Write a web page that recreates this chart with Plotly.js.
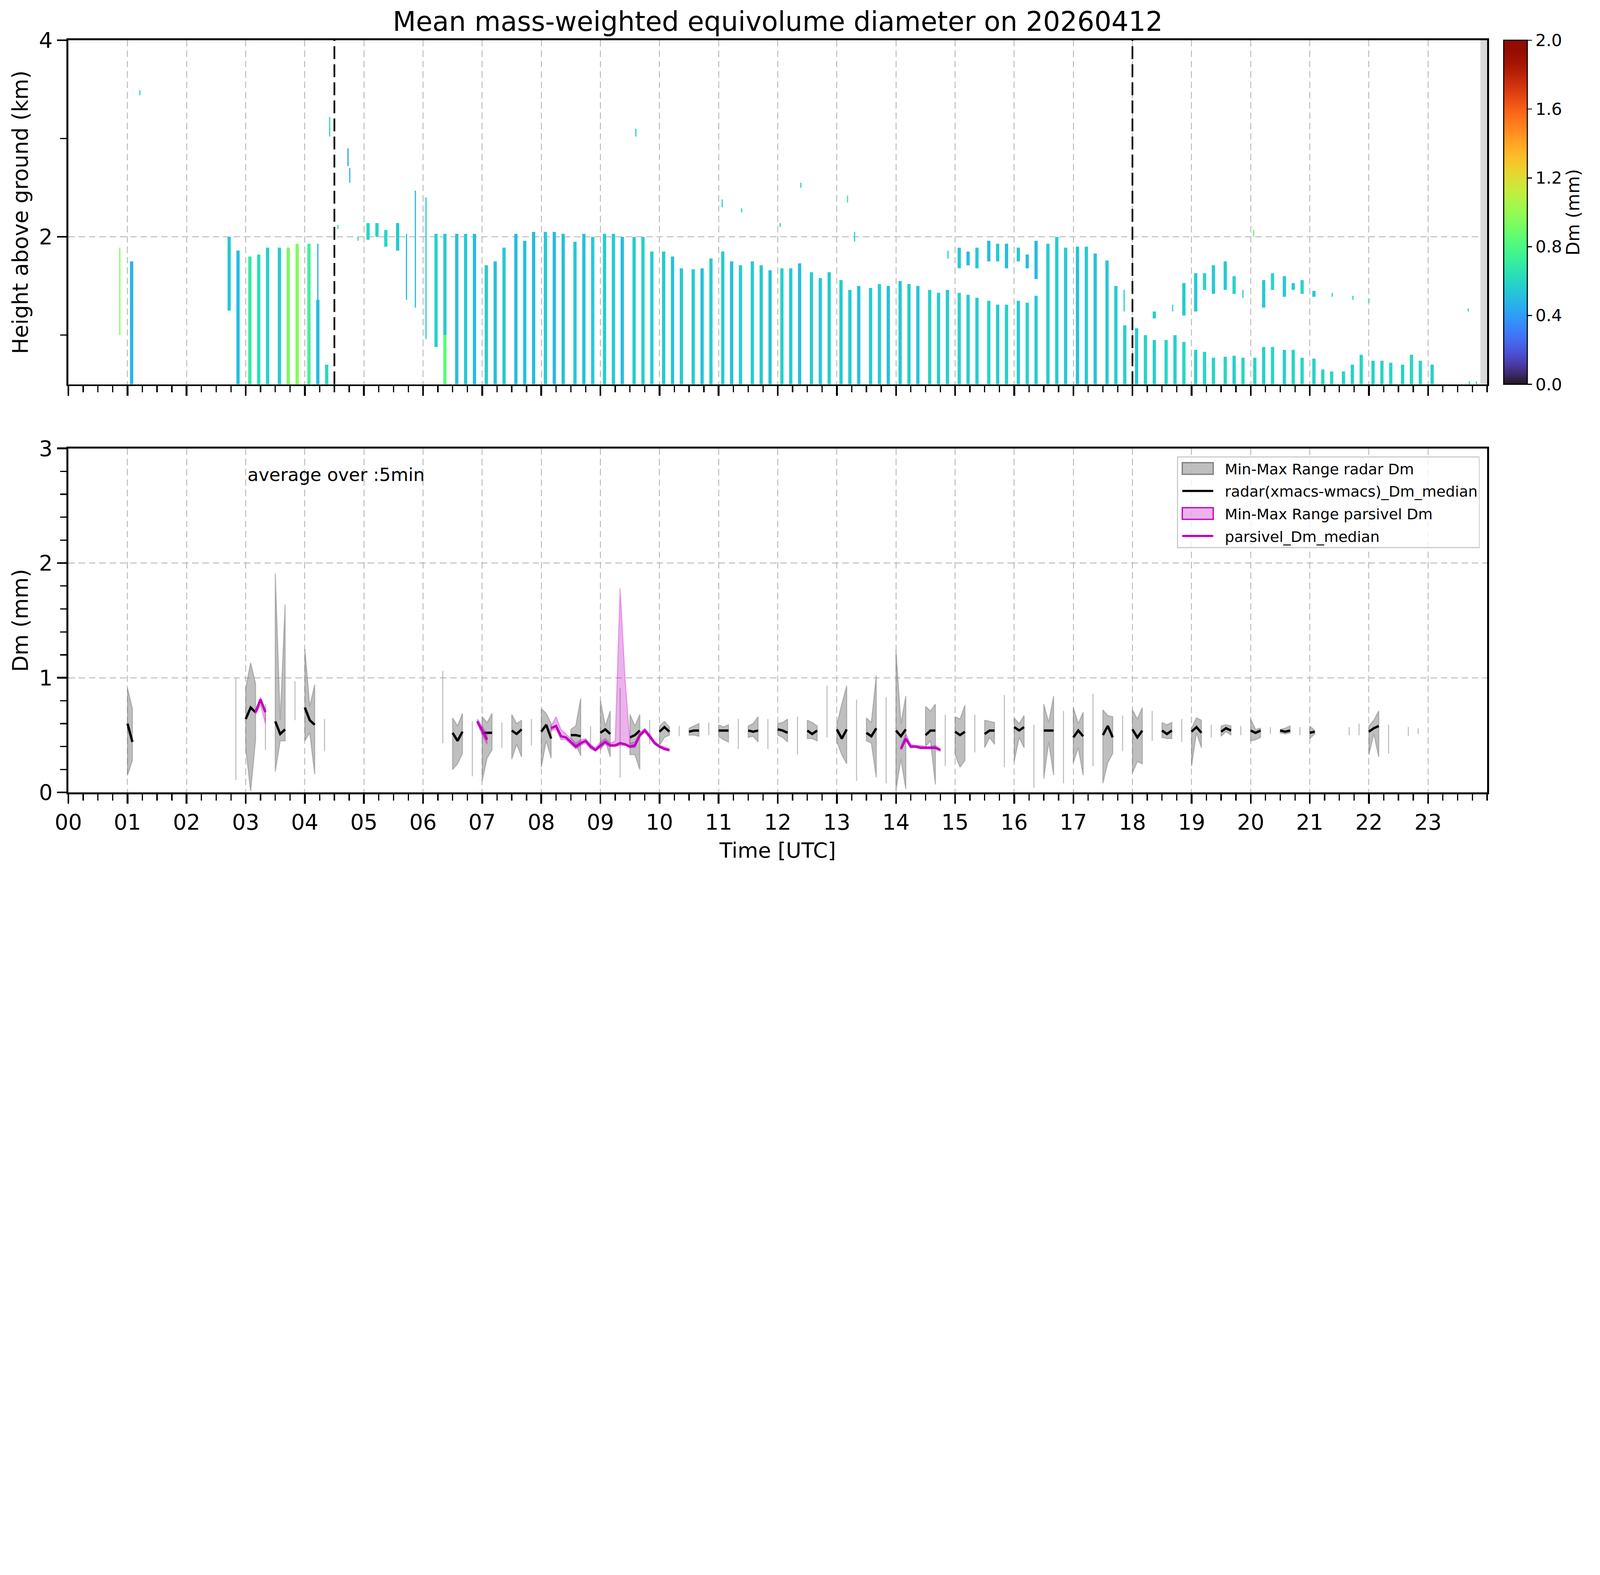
<!DOCTYPE html>
<html>
<head>
<meta charset="utf-8">
<script src="https://cdn.plot.ly/plotly-3.0.1.min.js"></script>
<style>html,body{margin:0;padding:0;background:#fff;overflow:hidden}#chart{width:7442px;height:4031px;transform-origin:0 0}</style>
</head>
<body>
<div id="chart"></div>
<script>
// ---------------- DATA ----------------
const chartTitle = 'Mean mass-weighted equivolume diameter on 20260412';
const hourLabels = ['00','01','02','03','04','05','06','07','08','09','10','11','12','13','14','15','16','17','18','19','20','21','22','23'];
const markerTimes = [4.5, 18.0];          // dashed vertical lines (h UTC)
const noDataStart = 23.885;               // grey no-data band start (h UTC)

// Radar profiles (top panel): scan centre time (h), echo base (km), echo top (km), Dm (mm)
const scanT = [1.07,2.72,2.87,3.07,3.22,3.37,3.57,3.72,3.87,4.07,4.22,4.37,
  5.07,5.22,5.37,5.57,6.22,6.37,6.37,
  6.57,6.72,6.87,7.07,7.22,7.37,7.57,7.72,7.87,8.07,8.22,8.37,8.57,8.72,8.87,
  9.07,9.22,9.37,9.57,9.72,9.87,10.07,10.22,10.37,10.57,10.72,10.87,
  11.07,11.22,11.37,11.57,11.72,11.87,12.07,12.22,12.37,12.57,12.72,12.87,
  13.07,13.22,13.37,13.57,13.72,13.87,14.07,14.22,14.37,14.57,14.72,14.87,
  15.07,15.22,15.37,15.57,15.72,15.87,16.07,16.22,16.37,16.57,16.72,16.87,
  17.07,17.22,17.37,17.57,17.72,17.87,18.07,18.22,18.37,18.57,18.72,18.87,
  19.07,19.22,19.37,19.57,19.72,19.87,20.07,20.22,20.37,20.57,20.72,20.87,
  21.07,21.22,21.37,21.57,21.72,21.87,22.07,22.22,22.37,22.57,22.72,22.87,23.07,
  15.07,15.22,15.37,15.57,15.72,15.87,16.07,16.22,16.37,
  18.37,18.87,19.07,19.22,19.37,19.57,19.72,20.22,20.37,20.57,20.72,20.87,21.07];
const scanBase = [0.5,1.25,0.5,0.5,0.5,0.5,0.5,0.5,0.5,0.5,0.5,0.5,
  1.97,2.0,1.9,1.86,0.88,1.0,0.5,
  0.5,0.5,0.5,0.5,0.5,0.5,0.5,0.5,0.5,0.5,0.5,0.5,0.5,0.5,0.5,
  0.5,0.5,0.5,0.5,0.5,0.5,0.5,0.5,0.5,0.5,0.5,0.5,
  0.5,0.5,0.5,0.5,0.5,0.5,0.5,0.5,0.5,0.5,0.5,0.5,
  0.5,0.5,0.5,0.5,0.5,0.5,0.5,0.5,0.5,0.5,0.5,0.5,
  0.5,0.5,0.5,0.5,0.5,0.5,0.5,0.5,0.5,0.5,0.5,0.5,
  0.5,0.5,0.5,0.5,0.5,0.5,0.5,0.5,0.5,0.5,0.5,0.5,
  0.5,0.5,0.5,0.5,0.5,0.5,0.5,0.5,0.5,0.5,0.5,0.5,
  0.5,0.5,0.5,0.5,0.5,0.5,0.5,0.5,0.5,0.5,0.5,0.5,0.5,
  1.68,1.71,1.68,1.75,1.75,1.68,1.75,1.68,1.57,
  1.17,1.2,1.24,1.46,1.42,1.46,1.42,1.28,1.46,1.39,1.46,1.42,1.39];
const scanTop = [1.75,2.0,1.86,1.80,1.82,1.89,1.89,1.89,1.93,1.93,1.36,0.70,
  2.14,2.14,2.07,2.14,2.03,2.03,1.0,
  2.03,2.03,2.03,1.71,1.75,1.89,2.03,1.96,2.05,2.05,2.05,2.03,1.95,2.03,2.0,
  2.03,2.03,2.0,2.0,2.0,1.85,1.85,1.8,1.68,1.67,1.68,1.78,
  1.85,1.75,1.71,1.75,1.71,1.66,1.68,1.68,1.73,1.64,1.58,1.64,
  1.56,1.46,1.5,1.48,1.52,1.5,1.55,1.52,1.5,1.46,1.43,1.46,
  1.43,1.41,1.38,1.35,1.31,1.31,1.35,1.33,1.4,1.93,2.0,1.89,
  1.9,1.9,1.83,1.76,1.5,1.1,1.07,1.0,0.95,0.95,1.0,0.93,
  0.85,0.83,0.77,0.78,0.79,0.77,0.77,0.88,0.88,0.85,0.85,0.77,
  0.76,0.65,0.63,0.63,0.7,0.8,0.74,0.74,0.72,0.7,0.8,0.74,0.7,
  1.89,1.85,1.89,1.96,1.93,1.93,1.89,1.82,1.96,
  1.24,1.53,1.63,1.63,1.71,1.75,1.6,1.56,1.63,1.6,1.53,1.56,1.45];
const scanDm = [0.48,0.55,0.50,0.70,0.62,0.58,0.55,0.92,0.95,0.75,0.50,0.60,
  0.60,0.58,0.60,0.55,0.58,0.55,0.85,
  0.52,0.55,0.50,0.55,0.52,0.55,0.50,0.52,0.50,0.55,0.50,0.52,0.55,0.52,0.55,
  0.56,0.55,0.50,0.56,0.58,0.56,0.55,0.52,0.55,0.56,0.52,0.56,
  0.56,0.52,0.56,0.56,0.55,0.52,0.58,0.55,0.52,0.56,0.55,0.56,
  0.56,0.55,0.52,0.55,0.56,0.52,0.55,0.56,0.52,0.58,0.56,0.55,
  0.58,0.56,0.56,0.58,0.56,0.58,0.56,0.58,0.56,0.55,0.56,0.55,
  0.52,0.55,0.52,0.55,0.56,0.58,0.55,0.58,0.58,0.60,0.58,0.60,
  0.58,0.60,0.60,0.60,0.58,0.60,0.60,0.58,0.60,0.58,0.60,0.60,
  0.58,0.60,0.60,0.60,0.58,0.60,0.58,0.60,0.60,0.58,0.60,0.60,0.58,
  0.55,0.50,0.55,0.50,0.55,0.50,0.55,0.50,0.50,
  0.58,0.55,0.55,0.60,0.55,0.55,0.60,0.55,0.60,0.55,0.55,0.60,0.55];

// Small isolated echoes (narrow)
const speckT    = [0.87,1.21,4.22,4.42,4.56,4.73,4.76,4.90,5.72,5.87,6.05,9.60,11.06,11.39,12.04,12.39,13.18,13.30,14.88,17.86,18.68,19.87,20.05,21.38,21.73,22.00,23.68,23.70,23.82];
const speckBase = [1.00,3.44,1.36,3.02,2.08,2.72,2.55,1.96,1.36,1.28,0.96,3.02,2.30,2.25,2.10,2.50,2.35,1.95,1.78,1.24,1.24,1.38,2.00,1.39,1.36,1.33,1.24,0.50,0.50];
const speckTop  = [1.89,3.49,1.93,3.22,2.12,2.90,2.70,2.00,2.03,2.47,2.40,3.10,2.38,2.29,2.14,2.55,2.42,2.05,1.86,1.46,1.31,1.46,2.07,1.43,1.40,1.37,1.27,0.53,0.53];
const speckDm   = [0.95,0.60,0.45,0.60,0.60,0.42,0.50,0.60,0.50,0.50,0.55,0.60,0.60,0.60,0.60,0.60,0.70,0.60,0.60,0.55,0.60,0.55,0.85,0.60,0.60,0.60,0.60,0.60,0.60];

// Bottom panel: 5-min radar Dm statistics
const radarTime = ['01:00','01:05','02:50','03:00','03:05','03:10','03:20','03:30','03:35','03:40','03:50',
  '04:00','04:05','04:10','04:20','06:20','06:30','06:35','06:40','06:50','07:00','07:05','07:10','07:20',
  '07:30','07:35','07:40','07:50','08:00','08:05','08:10','08:30','08:35','08:40','08:50','09:00','09:05','09:10',
  '09:20','09:30','09:35','09:40','09:50','10:00','10:05','10:10','10:20','10:30','10:35','10:40','10:50',
  '11:00','11:05','11:10','11:20','11:30','11:35','11:40','11:50','12:00','12:05','12:10','12:20',
  '12:30','12:35','12:40','12:50','13:00','13:05','13:10','13:20','13:30','13:35','13:40','13:50',
  '14:00','14:05','14:10','14:30','14:35','14:40','14:50','15:00','15:05','15:10','15:20',
  '15:30','15:35','15:40','15:50','16:00','16:05','16:10','16:20','16:30','16:35','16:40','16:50',
  '17:00','17:05','17:10','17:20','17:30','17:35','17:40','17:50','18:00','18:05','18:10','18:20',
  '18:30','18:35','18:40','18:50','19:00','19:05','19:10','19:20','19:30','19:35','19:40','19:50',
  '20:00','20:05','20:10','20:20','20:30','20:35','20:40','20:50','21:00','21:05','21:40','21:50',
  '22:00','22:05','22:10','22:20','22:40','22:50'];
const radarMin = [0.15,0.28,0.11,0.39,0.01,0.46,0.37,0.18,0.45,0.45,0.63,
  0.45,0.52,0.16,0.36,0.43,0.20,0.25,0.34,0.14,0.10,0.30,0.37,0.39,
  0.29,0.42,0.31,0.41,0.22,0.45,0.30,0.47,0.42,0.32,0.39,0.37,0.45,0.31,
  0.13,0.33,0.33,0.20,0.42,0.41,0.48,0.50,0.49,0.50,0.50,0.49,0.50,
  0.49,0.46,0.44,0.38,0.48,0.49,0.44,0.38,0.50,0.48,0.44,0.33,
  0.47,0.47,0.45,0.48,0.44,0.33,0.25,0.10,0.45,0.43,0.13,0.08,
  0.02,0.29,0.03,0.40,0.45,0.07,0.23,0.33,0.22,0.28,0.35,
  0.39,0.48,0.42,0.22,0.27,0.48,0.39,0.04,0.12,0.44,0.15,0.08,
  0.26,0.39,0.15,0.23,0.08,0.26,0.34,0.36,0.17,0.27,0.25,0.45,
  0.48,0.47,0.47,0.44,0.23,0.52,0.39,0.48,0.49,0.53,0.50,0.50,
  0.45,0.46,0.48,0.51,0.52,0.51,0.52,0.50,0.47,0.51,0.50,0.50,
  0.33,0.51,0.31,0.34,0.49,0.51];
const radarMed = [0.60,0.44,0.55,0.64,0.74,0.70,0.60,0.62,0.51,0.55,0.75,
  0.74,0.63,0.59,0.50,0.60,0.52,0.45,0.53,0.50,0.52,0.52,0.52,0.50,
  0.54,0.51,0.55,0.50,0.53,0.59,0.47,0.50,0.50,0.49,0.50,0.52,0.55,0.51,
  0.50,0.48,0.50,0.54,0.50,0.53,0.57,0.53,0.53,0.53,0.54,0.54,0.55,
  0.54,0.54,0.54,0.50,0.54,0.53,0.54,0.50,0.55,0.54,0.52,0.50,
  0.54,0.51,0.54,0.60,0.55,0.47,0.55,0.50,0.52,0.49,0.56,0.50,
  0.54,0.49,0.55,0.50,0.54,0.54,0.50,0.53,0.50,0.53,0.50,
  0.51,0.54,0.54,0.50,0.57,0.54,0.57,0.50,0.54,0.54,0.54,0.50,
  0.48,0.54,0.49,0.50,0.50,0.58,0.48,0.50,0.55,0.48,0.54,0.55,
  0.54,0.51,0.54,0.50,0.53,0.57,0.52,0.53,0.53,0.56,0.54,0.54,
  0.54,0.52,0.54,0.54,0.54,0.53,0.54,0.54,0.52,0.53,0.54,0.55,
  0.53,0.56,0.58,0.50,0.53,0.53];
const radarMax = [0.91,0.73,1.00,0.91,1.13,0.95,0.77,1.91,0.63,1.64,0.97,
  1.25,0.75,0.94,0.64,1.06,0.65,0.58,0.69,0.62,0.66,0.61,0.69,0.61,
  0.68,0.60,0.63,0.64,0.73,0.69,0.60,0.55,0.58,0.82,0.58,0.80,0.58,0.71,
  0.91,0.68,0.58,0.68,0.63,0.58,0.62,0.57,0.58,0.56,0.58,0.60,0.61,
  0.59,0.57,0.59,0.64,0.58,0.60,0.66,0.64,0.60,0.61,0.64,0.66,
  0.63,0.61,0.58,0.93,0.59,0.77,0.93,0.81,0.65,0.61,1.02,0.83,
  1.24,0.60,0.84,0.75,0.71,0.77,0.68,0.66,0.64,0.76,0.68,
  0.63,0.62,0.61,0.85,0.65,0.60,0.67,0.59,0.77,0.61,0.84,0.71,
  0.74,0.60,0.70,0.86,0.72,0.67,0.66,0.67,0.72,0.64,0.74,0.71,
  0.61,0.59,0.61,0.64,0.56,0.65,0.63,0.59,0.58,0.59,0.58,0.58,
  0.64,0.55,0.56,0.57,0.55,0.56,0.58,0.57,0.58,0.54,0.57,0.60,
  0.58,0.63,0.71,0.59,0.57,0.56];

// Bottom panel: 5-min Parsivel Dm statistics
const parsTime = ['03:10','03:15','03:20','06:55','07:00','07:05',
  '08:10','08:15','08:20','08:25','08:30','08:35','08:40','08:45','08:50','08:55','09:00','09:05','09:10','09:15',
  '09:20','09:25','09:30','09:35','09:40','09:45','09:50','09:55','10:00','10:05','10:10',
  '14:05','14:10','14:15','14:20','14:25','14:30','14:35','14:40','14:45'];
const parsMin = [0.68,0.76,0.60,0.60,0.50,0.42,
  0.54,0.55,0.46,0.46,0.42,0.38,0.41,0.43,0.38,0.36,0.39,0.42,0.40,0.40,
  0.41,0.41,0.39,0.39,0.48,0.53,0.47,0.42,0.39,0.37,0.36,
  0.37,0.45,0.39,0.39,0.38,0.38,0.38,0.38,0.36];
const parsMed = [0.70,0.81,0.70,0.62,0.54,0.46,
  0.56,0.58,0.49,0.48,0.44,0.40,0.43,0.45,0.40,0.37,0.41,0.44,0.41,0.41,
  0.43,0.42,0.40,0.41,0.50,0.54,0.49,0.43,0.40,0.38,0.37,
  0.38,0.47,0.40,0.40,0.39,0.39,0.39,0.39,0.37];
const parsMax = [0.72,0.83,0.72,0.64,0.58,0.50,
  0.58,0.66,0.55,0.51,0.47,0.43,0.46,0.47,0.42,0.39,0.44,0.47,0.43,0.45,
  1.78,1.00,0.43,0.44,0.52,0.56,0.51,0.45,0.41,0.40,0.38,
  0.40,0.51,0.42,0.41,0.41,0.40,0.40,0.41,0.38];

// ---------------- HELPERS ----------------
function turbo(t){
  t = Math.max(0, Math.min(1, t));
  const r = 34.61 + t*(1172.33 - t*(10793.56 - t*(33300.12 - t*(38394.49 - t*14825.05))));
  const g = 23.31 + t*(557.33 + t*(1225.33 - t*(3574.96 - t*(1073.77 + t*707.56))));
  const b = 27.2 + t*(3211.1 - t*(15327.97 - t*(27814 - t*(22569.18 - t*6838.66))));
  const c = v => Math.max(0, Math.min(255, Math.round(v)));
  return 'rgb(' + c(r) + ',' + c(g) + ',' + c(b) + ')';
}
const turboScale = [];
for (let k = 0; k <= 32; k++) turboScale.push([k/32, turbo(k/32)]);

const toH = s => { const p = s.split(':').map(Number); return p[0] + p[1]/60; };
const GAP = 5.5/60;
function rangePolygon(times, lo, hi){
  const xs = [], ys = []; let seg = [];
  const flush = () => {
    if (!seg.length) return;
    seg.forEach(i => { xs.push(times[i]); ys.push(hi[i]); });
    seg.slice().reverse().forEach(i => { xs.push(times[i]); ys.push(lo[i]); });
    xs.push(times[seg[0]]); ys.push(hi[seg[0]]);
    xs.push(null); ys.push(null); seg = [];
  };
  for (let i = 0; i < times.length; i++){
    if (seg.length && times[i] - times[seg[seg.length-1]] > GAP) flush();
    seg.push(i);
  }
  flush();
  return {x: xs, y: ys};
}
function gappedLine(times, vals){
  const xs = [], ys = [];
  for (let i = 0; i < times.length; i++){
    if (i > 0 && times[i] - times[i-1] > GAP){ xs.push(null); ys.push(null); }
    xs.push(times[i]); ys.push(vals[i]);
  }
  return {x: xs, y: ys};
}
const rT = radarTime.map(toH), pT = parsTime.map(toH);
const radarPoly = rangePolygon(rT, radarMin, radarMax);
const radarLine = gappedLine(rT, radarMed);
const parsPoly = rangePolygon(pT, parsMin, parsMax);
const parsLine = gappedLine(pT, parsMed);

const GREY_FILL = 'rgba(128,128,128,0.5)';
const PINK_FILL = 'rgba(191,0,191,0.3)';

// ---------------- TRACES ----------------
const traces = [
  {type:'bar', x: scanT, base: scanBase, y: scanTop.map((v,i)=>v-scanBase[i]), width: 0.055,
   marker:{color: scanDm, coloraxis:'coloraxis', line:{width:0}}, xaxis:'x', yaxis:'y', showlegend:false, hoverinfo:'skip'},
  {type:'bar', x: speckT, base: speckBase, y: speckTop.map((v,i)=>v-speckBase[i]), width: 0.02,
   marker:{color: speckDm, coloraxis:'coloraxis', line:{width:0}}, xaxis:'x', yaxis:'y', showlegend:false, hoverinfo:'skip'},
  {type:'scatter', mode:'lines', x: radarPoly.x, y: radarPoly.y, fill:'toself',
   fillcolor: GREY_FILL, line:{color: GREY_FILL, width:5},
   name:'Min-Max Range radar Dm', legendgroup:'a', xaxis:'x2', yaxis:'y2', hoverinfo:'skip'},
  {type:'scatter', mode:'lines', x: radarLine.x, y: radarLine.y, connectgaps:false,
   line:{color:'black', width:11}, name:'radar(xmacs-wmacs)_Dm_median', legendgroup:'b', xaxis:'x2', yaxis:'y2', hoverinfo:'skip'},
  {type:'scatter', mode:'lines', x: parsPoly.x, y: parsPoly.y, fill:'toself',
   fillcolor: PINK_FILL, line:{color: PINK_FILL, width:5},
   name:'Min-Max Range parsivel Dm', legendgroup:'c', xaxis:'x2', yaxis:'y2', hoverinfo:'skip'},
  {type:'scatter', mode:'lines', x: parsLine.x, y: parsLine.y, connectgaps:false,
   line:{color:'#bf00bf', width:11}, name:'parsivel_Dm_median', legendgroup:'d', xaxis:'x2', yaxis:'y2', hoverinfo:'skip'}
];

// ---------------- LAYOUT ----------------
const hourVals = hourLabels.map((_, i) => i);
const gridStyle = {showgrid:true, gridcolor:'#b0b0b0', gridwidth:4, griddash:'30px,18px'};
const lineStyle = {showline:true, linecolor:'black', linewidth:9, mirror:true, zeroline:false,
  ticks:'outside', ticklen:44, tickwidth:8, tickcolor:'black', automargin:false, tickfont:{size:100}};
const xCommon = Object.assign({}, lineStyle, gridStyle, {range:[0,24], tickmode:'array', tickvals: hourVals, ticktext: hourLabels,
  minor:{dtick:0.25, tick0:0, ticks:'outside', ticklen:29, tickwidth:6, tickcolor:'black', showgrid:false}});

const layout = {
  width: 7442, height: 4031,
  margin: {l:318, r:525, t:187, b:346, autoexpand:false},
  paper_bgcolor:'white', plot_bgcolor:'white',
  font: {family:'DejaVu Sans', color:'black', size:100},
  showlegend: true, hovermode: false, barmode: 'overlay',
  title: {text: chartTitle, x:0.5, xref:'paper', xanchor:'center', y: 1 - 100/4031, yref:'container', yanchor:'middle', font:{size:125}},
  xaxis: Object.assign({}, xCommon, {domain:[0,1], anchor:'y', showticklabels:false}),
  yaxis: Object.assign({}, lineStyle, gridStyle, {domain:[0.5426,1], anchor:'x', range:[0.5,4], tickmode:'array', tickvals:[2,4], ticktext:['2','4'],
    minor:{dtick:1, tick0:0, ticks:'outside', ticklen:29, tickwidth:6, tickcolor:'black', showgrid:false},
    title:{text:'Height above ground (km)', font:{size:100}, standoff:22}}),
  xaxis2: Object.assign({}, xCommon, {domain:[0,1], anchor:'y2', title:{text:'Time [UTC]', font:{size:98}, standoff:42}}),
  yaxis2: Object.assign({}, lineStyle, gridStyle, {domain:[0,0.4574], anchor:'x2', range:[0,3], tickmode:'array', tickvals:[0,1,2,3], ticktext:['0','1','2','3'],
    minor:{dtick:0.2, tick0:0, ticks:'outside', ticklen:29, tickwidth:6, tickcolor:'black', showgrid:false},
    title:{text:'Dm (mm)', font:{size:100}, standoff:22}}),
  coloraxis: {colorscale: turboScale, cmin:0, cmax:2,
    colorbar:{x:1.01167, xanchor:'left', xref:'paper', y:1, yanchor:'top', yref:'paper', len:0.4574, lenmode:'fraction',
      thickness:110, thicknessmode:'pixels', xpad:0, ypad:0, outlinewidth:5, outlinecolor:'black',
      tickmode:'array', tickvals:[0,0.4,0.8,1.2,1.6,2.0], tickformat:'.1f', tickprefix:'\u00a0',
      ticks:'outside', ticklen:20, tickwidth:5, tickcolor:'black', tickfont:{size:78},
      title:{text:'Dm (mm)', side:'right', font:{size:84}}}},
  legend: {x:0.99485, xanchor:'right', xref:'paper', y:0.44683, yanchor:'top', yref:'paper',
    bgcolor:'rgba(255,255,255,0.8)', bordercolor:'#cccccc', borderwidth:5, font:{size:69},
    itemwidth:207, tracegroupgap:12, traceorder:'grouped'},
  annotations: [{text:'average over :5min', xref:'paper', yref:'paper', x:0.1259, y:0.4225, xanchor:'left', yanchor:'middle',
    showarrow:false, font:{size:84}}],
  shapes: markerTimes.map(t => ({type:'line', xref:'x', yref:'y domain', x0:t, x1:t, y0:0, y1:1, layer:'above',
      line:{color:'black', width:8, dash:'60px,24px'}}))
    .concat([{type:'rect', xref:'x', yref:'y domain', x0:noDataStart, x1:24, y0:0, y1:1, fillcolor:'#d9d9d9', line:{width:0}, layer:'above'}])
};

// The browser window may be narrower than the figure: scale the whole figure to fit.
const fit = Math.min(1, window.innerWidth / 7442, window.innerHeight / 4031);
if (fit < 1) document.getElementById('chart').style.transform = 'scale(' + fit + ')';

Plotly.newPlot('chart', traces, layout, {staticPlot:true, displayModeBar:false}).then(gd => {
  // matplotlib-style legend handles: filled patches for ranges, short lines for medians
  gd.querySelectorAll('.legend .traces').forEach(item => {
    const fillPath = item.querySelector('.legendfill path');
    const linePaths = item.querySelectorAll('.legendlines path');
    if (fillPath) {
      const col = fillPath.style.fill;
      fillPath.setAttribute('d', 'M19,-27h144v54h-144z');
      fillPath.style.stroke = col;
      fillPath.style.strokeWidth = '6px';
      linePaths.forEach(p => p.setAttribute('d', 'M0,0'));
    } else {
      linePaths.forEach(p => p.setAttribute('d', 'M19,0h144'));
    }
  });
});
</script>
</body>
</html>
